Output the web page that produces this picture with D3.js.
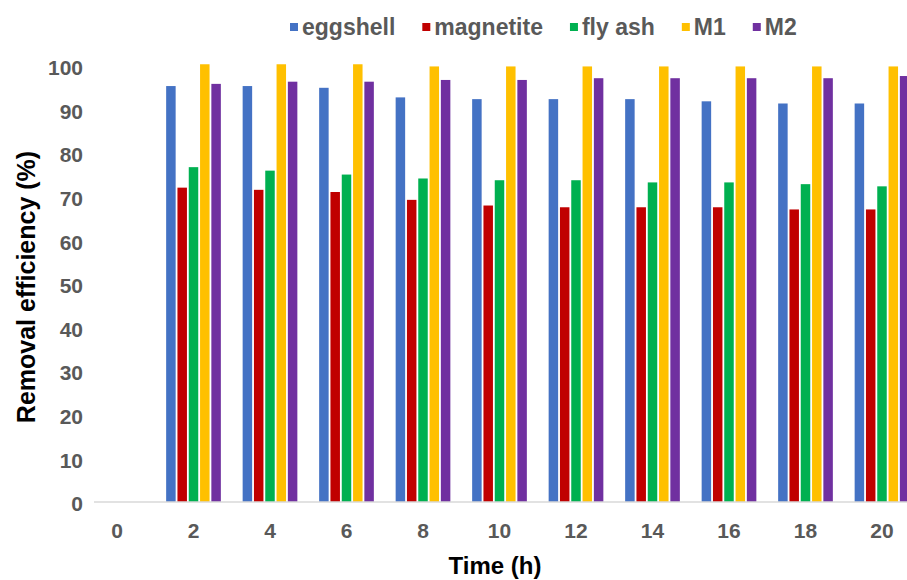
<!DOCTYPE html>
<html>
<head>
<meta charset="utf-8">
<script src="https://cdn.jsdelivr.net/npm/d3@7/dist/d3.min.js"></script>
<style>
  html, body { margin: 0; padding: 0; background: #fff; }
  svg { display: block; font-family: "Liberation Sans", Arial, sans-serif; }
</style>
</head>
<body>
<svg id="chart" width="907" height="580"></svg>
<script>
// Sampling times (h)
const times = ["0", "2", "4", "6", "8", "10", "12", "14", "16", "18", "20"];

// Removal efficiency (%) for each adsorbent
const eggshell  = [0, 95.4, 95.4, 95.0, 92.8, 92.4, 92.4, 92.4, 91.9, 91.4, 91.4];
const magnetite = [0, 72.1, 71.6, 71.1, 69.3, 68.0, 67.6, 67.6, 67.6, 67.1, 67.1];
const flyAsh    = [0, 76.8, 76.0, 75.1, 74.2, 73.8, 73.8, 73.3, 73.3, 72.9, 72.4];
const m1        = [0, 100.4, 100.4, 100.4, 99.9, 99.9, 99.9, 99.9, 99.9, 99.9, 99.9];
const m2        = [0, 95.9, 96.4, 96.4, 96.8, 96.8, 97.2, 97.2, 97.2, 97.2, 97.7];

const seriesNames = ["eggshell", "magnetite", "fly ash", "M1", "M2"];
const seriesValues = [eggshell, magnetite, flyAsh, m1, m2];
const seriesColors = ["#4472C4", "#C00000", "#00B050", "#FFC000", "#7030A0"];

const yTicks = [0, 10, 20, 30, 40, 50, 60, 70, 80, 90, 100];

const svg = d3.select("#chart");

// Scales
const x0 = d3.scaleBand().domain(times).range([78.75, 920.25]).padding(0);
const x1 = d3.scaleBand().domain(seriesNames).range([-27.35, 27.35]).paddingInner(0.16);
const y = d3.scaleLinear().domain([0, 100]).range([502, 66]);
const color = d3.scaleOrdinal().domain(seriesNames).range(seriesColors);

// Bars
const groups = svg.append("g")
  .selectAll("g")
  .data(times)
  .join("g")
  .attr("transform", d => `translate(${x0(d) + x0.bandwidth() / 2},0)`);

groups.selectAll("rect")
  .data((t, i) => seriesNames.map((s, k) => ({ series: s, value: seriesValues[k][i] })))
  .join("rect")
  .attr("x", d => x1(d.series))
  .attr("width", x1.bandwidth())
  .attr("y", d => y(d.value))
  .attr("height", d => y(0) - y(d.value))
  .attr("fill", d => color(d.series));

// Category axis line
svg.append("line")
  .attr("x1", 94).attr("x2", 907)
  .attr("y1", y(0)).attr("y2", y(0))
  .attr("stroke", "#d9d9d9")
  .attr("stroke-width", 1.6);

// Y axis labels
const yAxis = d3.axisLeft(y).tickValues(yTicks).tickSize(0).tickPadding(0);
const gy = svg.append("g").attr("transform", "translate(83,2)").call(yAxis);
gy.select(".domain").remove();
gy.selectAll("text")
  .attr("fill", "#595959")
  .style("font-size", "21px")
  .style("font-weight", "bold")
  .style("font-family", "'Liberation Sans', Arial, sans-serif");

// X axis labels
const xAxis = d3.axisBottom(x0).tickSize(0).tickPadding(0);
const gx = svg.append("g").attr("transform", "translate(0,523)").call(xAxis);
gx.select(".domain").remove();
gx.selectAll("text")
  .attr("fill", "#595959")
  .attr("dy", "0.72em")
  .style("font-size", "21px")
  .style("font-weight", "bold")
  .style("font-family", "'Liberation Sans', Arial, sans-serif");

// Axis titles
svg.append("text")
  .attr("x", 495).attr("y", 574)
  .attr("text-anchor", "middle")
  .style("font-size", "24px")
  .style("font-weight", "bold")
  .attr("fill", "#000")
  .text("Time (h)");

svg.append("text")
  .attr("transform", "translate(35,287) rotate(-90)")
  .attr("text-anchor", "middle")
  .style("font-size", "25px")
  .style("font-weight", "bold")
  .attr("fill", "#000")
  .text("Removal efficiency (%)");

// Legend
const legend = svg.append("g").attr("transform", "translate(290,0)");
let lx = 0;
seriesNames.forEach(name => {
  const item = legend.append("g").attr("transform", `translate(${lx},0)`);
  item.append("rect")
    .attr("x", 0).attr("y", 23)
    .attr("width", 8).attr("height", 8)
    .attr("fill", color(name));
  const t = item.append("text")
    .attr("x", 12).attr("y", 35)
    .attr("fill", "#595959")
    .style("font-size", "23px")
    .style("font-weight", "bold")
    .text(name);
  lx += 12 + t.node().getComputedTextLength() + 27;
});
</script>
</body>
</html>
